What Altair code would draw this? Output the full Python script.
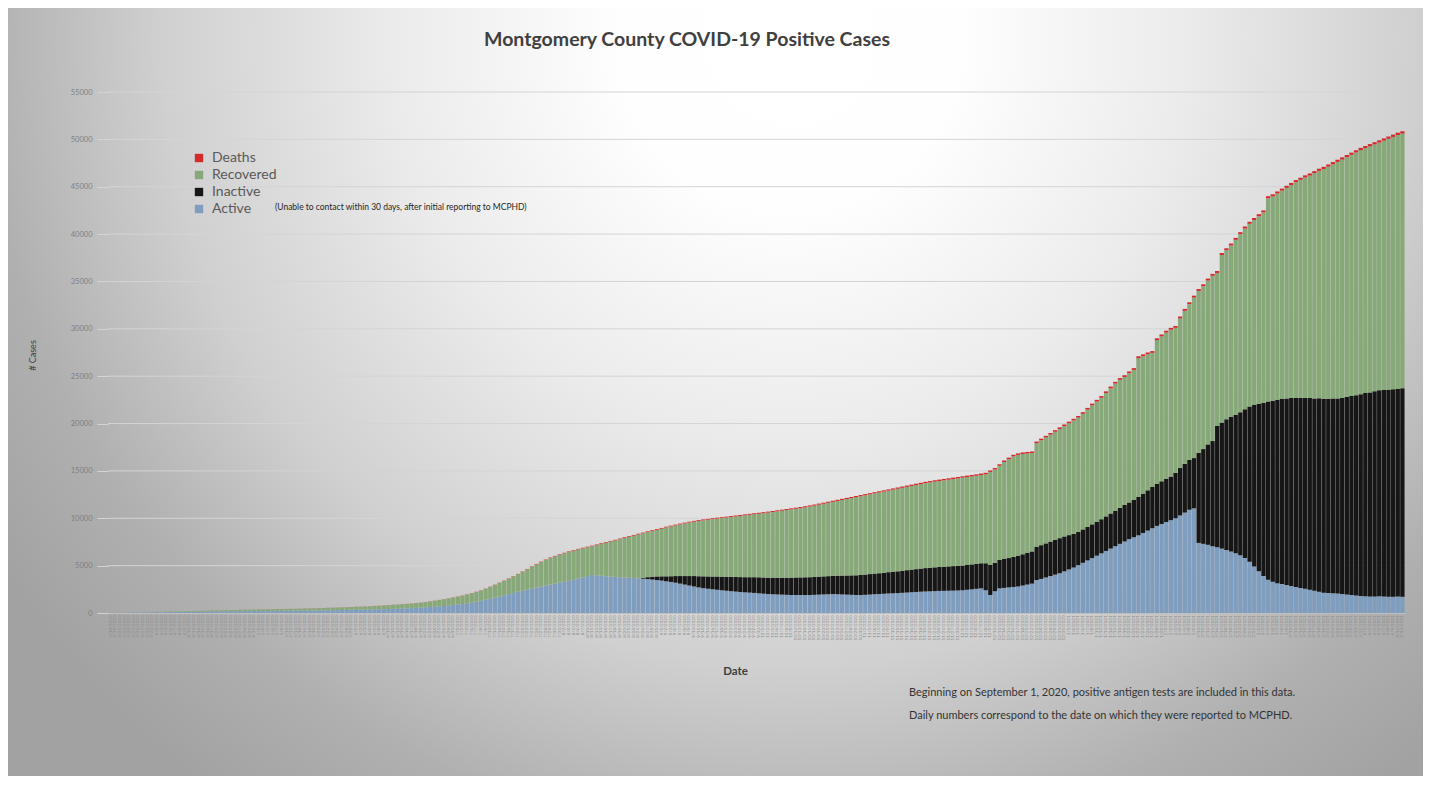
import altair as alt
import pandas as pd

# ---- data (one value per reported date) ----
total = [
    10, 15, 25, 35, 45, 55, 70, 80, 95, 105,
    120, 130, 140, 150, 165, 175, 190, 205, 220, 240,
    250, 260, 270, 280, 290, 300, 310, 320, 330, 345,
    355, 365, 375, 385, 395, 405, 415, 425, 432, 438,
    440, 455, 470, 485, 500, 515, 530, 545, 560, 575,
    590, 610, 630, 650, 672, 695, 720, 745, 772, 800,
    830, 862, 895, 930, 965, 1000, 1045, 1095, 1150, 1225,
    1300, 1380, 1460, 1550, 1640, 1740, 1850, 1970, 2100, 2240,
    2400, 2580, 2770, 2980, 3200, 3420, 3650, 3890, 4130, 4380,
    4650, 4920, 5180, 5420, 5640, 5850, 6030, 6200, 6360, 6500,
    6640, 6770, 6890, 7000, 7110, 7230, 7360, 7480, 7610, 7730,
    7860, 7990, 8110, 8240, 8370, 8490, 8620, 8740, 8860, 8980,
    9110, 9220, 9330, 9440, 9540, 9640, 9730, 9820, 9880, 9940,
    10000, 10060, 10110, 10170, 10230, 10290, 10350, 10410, 10470, 10530,
    10580, 10640, 10700, 10770, 10840, 10910, 10980, 11050, 11120, 11190,
    11270, 11360, 11450, 11550, 11650, 11750, 11850, 11950, 12050, 12150,
    12250, 12350, 12450, 12550, 12650, 12750, 12850, 12950, 13050, 13150,
    13250, 13350, 13450, 13550, 13650, 13750, 13850, 13930, 14010, 14080,
    14150, 14220, 14290, 14360, 14430, 14500, 14570, 14640, 14720, 14800,
    15050, 15300, 15700, 16100, 16400, 16700, 16850, 16950, 17000, 17050,
    18100, 18400, 18700, 19000, 19300, 19600, 19900, 20200, 20500, 20800,
    21200, 21650, 22100, 22500, 22900, 23400, 23900, 24400, 24800, 25100,
    25500, 25850, 27100, 27300, 27500, 27650, 29000, 29400, 29800, 30100,
    30300, 31300, 32100, 32800, 33500, 34200, 34700, 35300, 35800, 36100,
    38000, 38500, 39000, 39600, 40200, 40800, 41300, 41700, 42100, 42500,
    44000, 44200, 44500, 44800, 45100, 45400, 45700, 45950, 46200, 46400,
    46650, 46900, 47100, 47350, 47600, 47850, 48100, 48350, 48600, 48850,
    49100, 49300, 49500, 49700, 49900, 50100, 50300, 50500, 50700, 50850,
]

active = [
    10, 15, 22, 30, 38, 45, 55, 62, 70, 78,
    85, 90, 95, 100, 108, 115, 122, 130, 138, 145,
    150, 155, 160, 165, 170, 175, 180, 185, 190, 195,
    200, 205, 210, 215, 220, 225, 230, 235, 240, 245,
    250, 255, 260, 265, 270, 275, 282, 290, 298, 306,
    315, 325, 335, 345, 355, 365, 375, 385, 395, 405,
    420, 440, 460, 480, 500, 520, 545, 570, 600, 630,
    660, 700, 740, 790, 840, 890, 950, 1010, 1090, 1200,
    1300, 1400, 1500, 1610, 1730, 1860, 1990, 2120, 2240, 2350,
    2460, 2570, 2680, 2790, 2900, 3000, 3100, 3200, 3300, 3400,
    3500, 3620, 3750, 3900, 4000, 3980, 3930, 3880, 3840, 3810,
    3780, 3750, 3720, 3690, 3660, 3620, 3580, 3530, 3480, 3420,
    3350, 3280, 3200, 3100, 3000, 2900, 2800, 2700, 2620, 2560,
    2500, 2450, 2400, 2350, 2300, 2260, 2220, 2180, 2150, 2120,
    2080, 2040, 2000, 1980, 1960, 1940, 1920, 1900, 1900, 1900,
    1900, 1900, 1920, 1940, 1960, 1980, 2000, 1980, 1960, 1940,
    1920, 1900, 1900, 1920, 1950, 1980, 2000, 2030, 2060, 2080,
    2100, 2130, 2160, 2190, 2220, 2250, 2270, 2290, 2310, 2330,
    2340, 2350, 2360, 2380, 2400, 2450, 2500, 2550, 2600, 2400,
    1900, 2300, 2600, 2650, 2700, 2750, 2800, 2900, 3000, 3100,
    3480, 3600, 3750, 3900, 4050, 4200, 4400, 4600, 4800, 5050,
    5300, 5550, 5800, 6050, 6300, 6550, 6800, 7050, 7300, 7550,
    7800, 8000, 8200, 8450, 8700, 8950, 9200, 9400, 9600, 9800,
    10000, 10300, 10600, 10900, 11050, 7400, 7300, 7200, 7050, 6950,
    6800, 6650, 6500, 6300, 6100, 5800, 5400, 4900, 4400, 3900,
    3500, 3300, 3150, 3050, 2950, 2850, 2750, 2650, 2550, 2450,
    2350, 2250, 2150, 2100, 2080, 2050, 2000, 1950, 1900, 1850,
    1800, 1780, 1750, 1750, 1760, 1740, 1720, 1720, 1730, 1720,
]

inactive = [0] * 115 + [
    100, 200, 300, 380, 450,
    520, 600, 700, 800, 900, 1000, 1100, 1180, 1250, 1300,
    1350, 1400, 1440, 1480, 1510, 1540, 1570, 1600, 1630, 1660,
    1690, 1710, 1730, 1750, 1770, 1790, 1810, 1830, 1850, 1860,
    1870, 1880, 1890, 1900, 1905, 1910, 1930, 1960, 1990, 2020,
    2050, 2080, 2110, 2140, 2160, 2180, 2200, 2220, 2250, 2280,
    2300, 2330, 2360, 2390, 2410, 2440, 2470, 2490, 2510, 2530,
    2550, 2570, 2590, 2600, 2610, 2620, 2630, 2640, 2650, 2850,
    3170, 3000, 3000, 3050, 3100, 3170, 3250, 3300, 3350, 3400,
    3520, 3560, 3600, 3640, 3680, 3700, 3680, 3620, 3560, 3510,
    3520, 3540, 3560, 3580, 3600, 3650, 3700, 3750, 3800, 3850,
    3870, 3950, 4050, 4150, 4250, 4350, 4450, 4500, 4550, 4600,
    4800, 5000, 5150, 5250, 5300, 9500, 10000, 10600, 11100, 12800,
    13300, 13800, 14200, 14610, 15100, 15700, 16400, 17070, 17700, 18300,
    18830, 19100, 19350, 19550, 19700, 19850, 19950, 20050, 20150, 20250,
    20300, 20410, 20480, 20520, 20560, 20600, 20700, 20850, 21000, 21150,
    21300, 21450, 21540, 21650, 21750, 21800, 21850, 21900, 21950, 22000,
]

deaths = [
    0, 0, 0, 0, 0, 0, 1, 1, 1, 1, 1, 1, 2, 2, 2, 2, 2, 3, 3, 3,
    3, 3, 4, 4, 4, 4, 4, 5, 5, 5, 5, 5, 6, 6, 6, 6, 6, 7, 7, 7,
    7, 7, 8, 8, 8, 8, 8, 9, 9, 9, 9, 9, 10, 10, 10, 10, 10, 11, 11, 11,
    11, 12, 12, 12, 13, 13, 13, 14, 14, 15, 15, 16, 16, 17, 17, 18, 19, 20, 21, 22,
    23, 24, 25, 26, 27, 28, 30, 32, 34, 36, 38, 40, 42, 44, 46, 48, 50, 52, 54, 56,
    58, 60, 62, 64, 66, 68, 70, 71, 72, 73, 74, 75, 76, 77, 78, 79, 80, 81, 82, 83,
    84, 85, 86, 87, 88, 89, 90, 91, 92, 93, 94, 95, 96, 97, 98, 99, 100, 101, 102, 103,
    104, 105, 106, 107, 108, 109, 110, 111, 112, 113, 114, 115, 116, 117, 118, 119, 120, 121, 122, 123,
    124, 125, 126, 127, 128, 129, 130, 131, 132, 133, 134, 135, 136, 137, 138, 139, 140, 141, 142, 143,
    144, 145, 146, 147, 148, 149, 150, 151, 152, 153, 154, 155, 156, 157, 158, 159, 160, 161, 162, 163,
    164, 165, 166, 167, 168, 169, 170, 171, 172, 173, 174, 175, 176, 177, 178, 179, 180, 181, 182, 183,
    184, 185, 186, 187, 188, 189, 190, 191, 192, 193, 194, 195, 196, 197, 198, 199, 200, 201, 202, 203,
    204, 205, 206, 207, 208, 209, 210, 211, 212, 213, 214, 215, 216, 217, 218, 219, 220, 221, 222, 223,
    224, 225, 226, 227, 228, 229, 230, 231, 232, 233, 234, 235, 236, 237, 238, 239, 240, 241, 242, 243,
]

# reporting dates (category labels of the x axis)
dates = [f"{d.month}/{d.day}/{d.year}" for d in pd.bdate_range("2020-03-18", periods=len(total))]

series = ["Deaths", "Recovered", "Inactive", "Active"]
colors = ["#d42a2a", "#87a878", "#161616", "#7f9dbe"]
y_ticks = list(range(0, 55001, 5000))
grid_vals = y_ticks[1:]

title_text = "Montgomery County COVID-19 Positive Cases"
inactive_note = "(Unable to contact within 30 days, after initial reporting to MCPHD)"
note1 = "Beginning on September 1, 2020, positive antigen tests are included in this data."
note2 = "Daily numbers correspond to the date on which they were reported to MCPHD."

rows = []
for i, d in enumerate(dates):
    rec = total[i] - active[i] - inactive[i] - deaths[i]
    rows.append({"date": d, "series": "Active", "value": active[i], "ord": 0})
    rows.append({"date": d, "series": "Inactive", "value": inactive[i], "ord": 1})
    rows.append({"date": d, "series": "Recovered", "value": rec, "ord": 2})
    rows.append({"date": d, "series": "Deaths", "value": deaths[i], "ord": 3})
df = pd.DataFrame(rows)

W, H = 1297, 521
FONT = "Lato"

gradient = {
    "gradient": "radial",
    "x1": 0.5, "y1": 0.5, "r1": 0,
    "x2": 0.5, "y2": 0.5, "r2": 0.5,
    "stops": [
        {"offset": 0.0, "color": "#ffffff"},
        {"offset": 0.18, "color": "#fefefe"},
        {"offset": 0.42, "color": "#ebebeb"},
        {"offset": 0.66, "color": "#d0d0d0"},
        {"offset": 0.85, "color": "#b0b0b0"},
        {"offset": 1.0, "color": "#a2a2a2"},
    ],
}

one = alt.Data(values=[{"k": 1}])

# decorative radial background (centre near the top middle of the picture)
background = alt.Chart(one).mark_rect(fill=gradient).encode(
    x=alt.value(-168), x2=alt.value(1532), y=alt.value(-1002), y2=alt.value(898)
)

grid = alt.Chart(pd.DataFrame({"g": grid_vals})).mark_rule(
    color="#d4d4d4", strokeWidth=1
).encode(y=alt.Y("g:Q", scale=alt.Scale(domain=[0, 55000], nice=False)))

bars = alt.Chart(df).mark_bar().encode(
    x=alt.X(
        "date:O",
        sort=dates,
        scale=alt.Scale(paddingInner=0.07, paddingOuter=0.1),
        axis=alt.Axis(
            title="Date", titleFont=FONT, titleFontSize=11.5, titleFontWeight="bold",
            titleColor="#404040", titleX=627, titleY=58, titleBaseline="middle",
            labelAngle=270, labelFontSize=4.5, labelColor="#8a8a8a", labelFont=FONT,
            labelPadding=2, labelOverlap=False, labelBound=False, ticks=False,
            domainColor="#bfbfbf", zindex=1,
        ),
    ),
    y=alt.Y(
        "value:Q",
        stack="zero",
        scale=alt.Scale(domain=[0, 55000], nice=False),
        axis=alt.Axis(
            values=y_ticks, format="d", grid=False, domain=False,
            tickSize=11, tickColor="#d4d4d4", labelPadding=5,
            labelFontSize=7.5, labelColor="#7f7f7f", labelFont=FONT,
            title="# Cases", titleFont=FONT, titleFontSize=9, titleFontWeight="normal",
            titleColor="#404040", titleX=-76, titleY=263, titleAngle=270,
            titleAlign="center", titleBaseline="middle", zindex=1,
        ),
    ),
    color=alt.Color(
        "series:N",
        scale=alt.Scale(domain=series, range=colors),
        legend=alt.Legend(
            title=None, orient="none", legendX=84, legendY=59, padding=0,
            symbolType="square", symbolSize=70, symbolStrokeWidth=0,
            labelFont=FONT, labelFontSize=14, labelColor="#595959",
            rowPadding=3, labelOffset=6,
        ),
    ),
    order=alt.Order("ord:Q", sort="ascending"),
)

def label(text, x, y, size, color="#404040", weight="normal", align="left"):
    return alt.Chart(one).mark_text(
        text=text, font=FONT, fontSize=size, fontWeight=weight, color=color,
        align=align, baseline="middle",
    ).encode(x=alt.value(x), y=alt.value(y))

title = label(title_text, 579, -52, 19.5, "#404040", "bold", "center")
inote = label(inactive_note, 167, 115, 8.5, "#262626")
n1 = label(note1, 801, 601, 11, "#333333")
n2 = label(note2, 801, 624, 11, "#333333")

chart = alt.layer(background, grid, bars, title, inote, n1, n2).properties(
    width=W, height=H,
    autosize=alt.AutoSizeParams(type="none"),
    padding={"left": 100, "top": 84, "right": 18, "bottom": 163},
    background="white",
).configure_view(strokeWidth=0)

chart.save("out.html", embed_options={"renderer": "svg", "actions": False})
